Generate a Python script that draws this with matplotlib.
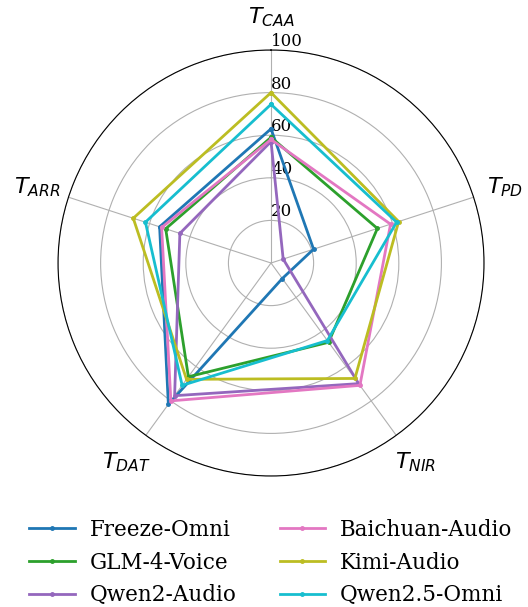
import numpy as np
import matplotlib
matplotlib.use('Agg')
import matplotlib.pyplot as plt

# axes and models
categories = ['$T_{CAA}$', '$T_{PD}$', '$T_{NIR}$', '$T_{DAT}$', '$T_{ARR}$']
models = ['Freeze-Omni', 'GLM-4-Voice', 'Qwen2-Audio',
          'Baichuan-Audio', 'Kimi-Audio', 'Qwen2.5-Omni']

freeze_omni = [63, 21, 9, 82, 55]
glm_4_voice = [59, 52.5, 46, 66, 52]
qwen2_audio = [57, 6, 70, 77, 45]
baichuan_audio = [58, 59, 71, 80, 54]
kimi_audio = [80, 63, 67, 67.5, 68]
qwen25_omni = [74.5, 62, 45, 71, 62]

scores = [freeze_omni, glm_4_voice, qwen2_audio,
          baichuan_audio, kimi_audio, qwen25_omni]
colors = ['tab:blue', 'tab:green', 'tab:purple', 'tab:pink', 'tab:olive', 'tab:cyan']

n = len(categories)
angles = np.linspace(0, 2 * np.pi, n, endpoint=False).tolist()
angles += angles[:1]

fig = plt.figure(figsize=(5.28, 6.07), dpi=100)
ax = fig.add_axes([0.1098, 0.2158, 0.807, 0.7018], projection='polar')
ax.set_theta_offset(np.pi / 2)
ax.set_theta_direction(-1)

for name, vals, c in zip(models, scores, colors):
    v = vals + vals[:1]
    ax.plot(angles, v, color=c, linewidth=2, marker='o', markersize=2.5, label=name)

ax.set_ylim(0, 100)
ax.set_yticks([20, 40, 60, 80, 100])
ax.set_yticklabels(['20', '40', '60', '80', '100'], family='DejaVu Serif', fontsize=12)
ax.set_rlabel_position(0)
ax.set_xticks(angles[:-1])
ax.set_xticklabels(categories, fontsize=16)
ax.tick_params(axis='x', pad=13)

fig.legend(loc='center', bbox_to_anchor=(0.513, 0.073), ncol=2, frameon=False,
           prop={'family': 'DejaVu Serif', 'size': 15.5}, columnspacing=2.0,
           labelspacing=0.5, handlelength=2.1, handletextpad=0.7)

fig.savefig('out.png', dpi=100)
